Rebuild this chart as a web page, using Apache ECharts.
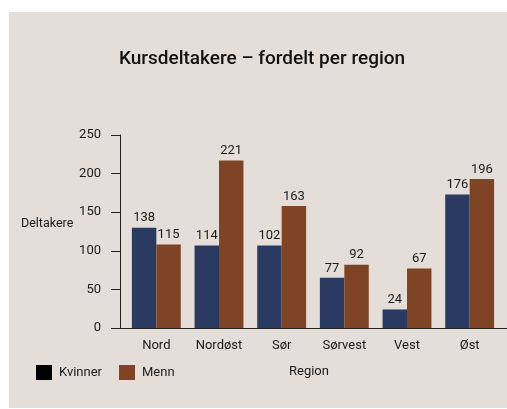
<!DOCTYPE html>
<html><head><meta charset="utf-8">
<script src="https://cdn.jsdelivr.net/npm/echarts@6/dist/echarts.min.js"></script>
<style>html,body{margin:0;padding:0;background:#fff}#c{width:507px;height:409px}</style>
</head><body><div id="c"></div>
<script>
const categories = ['Nord','Nordøst','Sør','Sørvest','Vest','Øst'];
const kvinnerBars = [130, 107, 107, 65, 24, 173];
const mennBars = [108, 217, 158, 82, 77, 193];
const kvinnerLabels = [138, 114, 102, 77, 24, 176];
const mennLabels = [115, 221, 163, 92, 67, 196];
const yTicks = [0, 50, 100, 150, 200, 250];

const FONT = 'Roboto,"Noto Sans",sans-serif';
const TXT = '#1a1a1a';
const chart = echarts.init(document.getElementById('c'), null, {renderer:'canvas'});
chart.setOption({
  backgroundColor: '#ffffff',
  textStyle: {fontFamily: FONT},
  animation: false,
  title: {
    text: 'Kursdeltakere – fordelt per region',
    left: 262, top: 50, textAlign: 'center', padding: 0,
    textStyle: {fontFamily: FONT, fontSize: 19, fontWeight: 500, color: '#111'}
  },
  graphic: [
    {type:'rect', z:-10, silent:true, shape:{x:9, y:12, width:498, height:396}, style:{fill:'#e4ddd8'}},
    {type:'line', z:10, silent:true, shape:{x1:111, y1:328.5, x2:125, y2:328.5}, style:{stroke:'#222', lineWidth:1}},
    {type:'line', z:10, silent:true, shape:{x1:501, y1:328.5, x2:507, y2:328.5}, style:{stroke:'#222', lineWidth:1}},
    {type:'text', left:289, top:365, style:{text:'Region', fontFamily:FONT, fontSize:13, fill:TXT}},
    {type:'text', left:21, top:217, style:{text:'Deltakere', fontFamily:FONT, fontSize:12.5, fill:TXT}}
  ],
  legend: {
    left: 36, top: 365, padding: 0, itemWidth: 16, itemHeight: 15, itemGap: 17,
    icon: 'rect',
    textStyle: {fontFamily: FONT, fontSize: 13, color: TXT, padding:[0,0,0,2]},
    data: [{name:'Kvinner', itemStyle:{color:'#000'}}, {name:'Menn', itemStyle:{color:'#7e4425'}}]
  },
  grid: {left: 125, right: 6, top: 135, bottom: 81, containLabel: false},
  xAxis: {
    type: 'category', data: categories,
    axisLine: {show:true, lineStyle:{color:'#222', width:1}},
    axisTick: {show:false},
    axisLabel: {fontFamily: FONT, fontSize: 13, color: TXT, margin: 11}
  },
  yAxis: {
    type: 'value', min: yTicks[0], max: yTicks[yTicks.length-1], interval: 50, offset: 5,
    axisLine: {show:true, lineStyle:{color:'#222', width:1}},
    axisTick: {show:true, length: 9, lineStyle:{color:'#222'}},
    splitLine: {show:false},
    axisLabel: {fontFamily: FONT, fontSize: 13, color: TXT, margin: 19}
  },
  series: [
    {name:'Kvinner', type:'bar', data:kvinnerBars, barGap:'0%', barCategoryGap:'22%',
     itemStyle:{color:'#2a3a60'},
     label:{show:true, position:'top', distance:3, fontFamily:FONT, fontSize:13, color:TXT,
            formatter:p=>kvinnerLabels[p.dataIndex]}},
    {name:'Menn', type:'bar', data:mennBars, barGap:'0%', barCategoryGap:'22%',
     itemStyle:{color:'#7e4425'},
     label:{show:true, position:'top', distance:3, fontFamily:FONT, fontSize:13, color:TXT,
            formatter:p=>mennLabels[p.dataIndex]}}
  ]
});
</script></body></html>
